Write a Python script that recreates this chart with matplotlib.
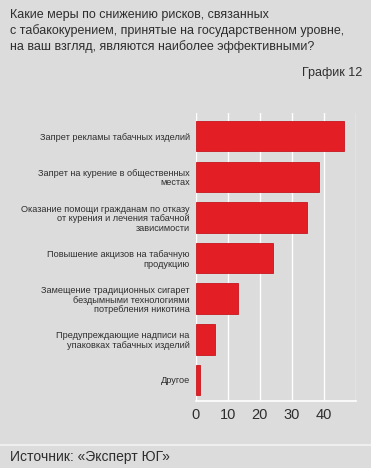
import matplotlib.pyplot as plt
import numpy as np

# данные
categories = [
    "Запрет рекламы табачных изделий",
    "Запрет на курение в общественных\nместах",
    "Оказание помощи гражданам по отказу\nот курения и лечения табачной\nзависимости",
    "Повышение акцизов на табачную\nпродукцию",
    "Замещение традиционных сигарет\nбездымными технологиями\nпотребления никотина",
    "Предупреждающие надписи на\nупаковках табачных изделий",
    "Другое",
]
values = [46.4, 38.4, 34.8, 24.0, 13.2, 6.1, 1.3]
xticks = [0, 10, 20, 30, 40]

title = ("Какие меры по снижению рисков, связанных\n"
         "с табакокурением, принятые на государственном уровне,\n"
         "на ваш взгляд, являются наиболее эффективными?")
chart_no = "График 12"
source = "Источник: «Эксперт ЮГ»"

bg = "#dcdcdc"
red = "#e31e25"
txt = "#2e2e2e"
plt.rcParams['font.family'] = ['Liberation Sans', 'DejaVu Sans']

fig = plt.figure(figsize=(3.71, 4.68), dpi=100, facecolor=bg)
ax = fig.add_axes([196 / 371, 1 - 400.7 / 468, 159.7 / 371, 287.7 / 468])
ax.set_facecolor(bg)

y = np.arange(len(values))
ax.barh(y, values, height=0.75, color=red, edgecolor="#c8161d", linewidth=0.6, zorder=3)

ax.set_xlim(0, 50)
ax.set_ylim(len(values) - 0.49, -0.57)
ax.set_xticks([0, 10, 20, 30, 40, 50])
ax.set_xticklabels([str(v) for v in xticks] + [""])
ax.grid(axis="x", color="white", linewidth=1.0, zorder=1)
for s in ["top", "right", "left"]:
    ax.spines[s].set_visible(False)
ax.spines["bottom"].set_color("white")
ax.spines["bottom"].set_linewidth(1.2)

ax.set_yticks(y)
ax.set_yticklabels(categories, fontsize=6.6, color=txt, linespacing=1.1)
ax.tick_params(axis="y", length=0, pad=4.5)
ax.tick_params(axis="x", length=0, pad=5, labelsize=10.5, labelcolor=txt)

fig.text(10 / 371, 1 - 9 / 468, title, ha="left", va="top", fontsize=9.0,
         color=txt, linespacing=1.3)
fig.text(362 / 371, 1 - 73 / 468, chart_no, ha="right", va="center",
         fontsize=9.0, color=txt)

fig.add_artist(plt.Line2D([0, 1], [1 - 445 / 468, 1 - 445 / 468],
                          transform=fig.transFigure, color="#f2f2f2", linewidth=1.2))
fig.text(10 / 371, 1 - 457 / 468, source, ha="left", va="center",
         fontsize=10.0, color=txt)

fig.savefig("out.png", dpi=100, facecolor=bg)
